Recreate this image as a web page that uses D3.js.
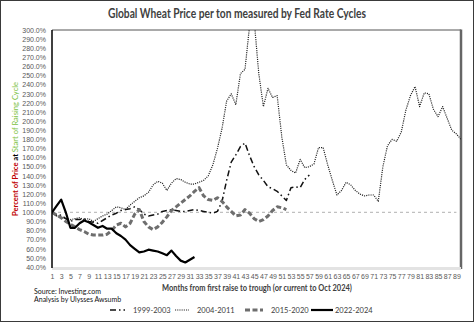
<!DOCTYPE html>
<html>
<head>
<meta charset="utf-8">
<script src="https://cdn.jsdelivr.net/npm/d3@7"></script>
<style>
  html, body { margin: 0; padding: 0; background: #fff; }
  svg { display: block; font-family: Lato, "Open Sans", sans-serif; }
</style>
</head>
<body>
<svg id="chart" width="474" height="322"></svg>
<script>
// Wheat price as % of price at the first Fed hike, by month of each rate cycle
const cycle1999 = [100, 96, 97, 93, 90, 92, 92, 93, 90, 89, 88, 91, 94, 97, 99, 102, 103, 104, 106, 103,
  98, 96, 97, 98, 101, 102, 103, 102, 101, 101, 102, 103, 102, 101, 100, 99, 101, 112, 135, 155,
  163, 172, 176, 162, 150, 141, 135, 128, 126, 123, 118, 113, 127, 128, 127, 136, 141];
const cycle2004 = [100, 97, 94, 93, 92, 93, 94, 92, 93, 90, 93, 96, 98, 102, 106, 105, 103, 108, 112, 116,
  118, 122, 130, 134, 132, 124, 132, 137, 136, 133, 131, 131, 133, 135, 140, 152, 170, 192, 222, 230,
  218, 252, 257, 305, 310, 252, 216, 236, 226, 228, 183, 152, 146, 143, 158, 149, 150, 153, 171, 171,
  152, 135, 119, 124, 133, 130, 124, 120, 118, 119, 119, 112, 150, 173, 180, 178, 188, 212, 228, 238,
  216, 231, 230, 213, 205, 216, 203, 190, 186, 180];
const cycle2015 = [100, 97, 94, 90, 87, 84, 81, 79, 76, 75, 75, 75, 76, 80, 86, 88, 84, 88, 98, 103,
  90, 84, 81, 84, 89, 95, 102, 106, 110, 114, 118, 123, 127, 118, 114, 113, 116, 112, 106, 101,
  96, 97, 103, 99, 93, 90, 92, 96, 102, 106, 105, 103];
const cycle2022 = [100, 107, 114, 100, 83, 83, 88, 91, 89, 86, 83, 85, 82, 82, 77, 74, 70, 64, 60, 56,
  57, 59, 58, 57, 55, 53, 58, 52, 47, 45, 48, 51];
const baseline = d3.range(1, 90).map(() => 100);

const cycleNames = ["1999-2003", "2004-2011", "2015-2020", "2022-2024"];
const yTicks = d3.range(40, 301, 10);
const xTicks = d3.range(1, 90, 2);

const svg = d3.select("#chart");
const W = 474, H = 322;
const plot = { left: 52, right: 461, top: 30, bottom: 267 };

const x = d3.scaleLinear().domain([1, 90]).range([plot.left, plot.right]);
const y = d3.scaleLinear().domain([40, 300]).range([plot.bottom, plot.top]);

// outer frame
svg.append("rect").attr("x", 0.5).attr("y", 0.5).attr("width", W - 1).attr("height", H - 1)
  .attr("fill", "#fff").attr("stroke", "#3a3a3a").attr("stroke-width", 1);

// title (horizontally condensed)
svg.append("text").attr("transform", "translate(237,18) scale(0.82,1)").attr("text-anchor", "middle")
  .attr("font-size", 12.5).attr("font-weight", "bold").attr("fill", "#404040")
  .text("Global Wheat Price per ton measured by Fed Rate Cycles");

// plot frame: gray top/right, light bottom band
svg.append("line").attr("x1", plot.left).attr("x2", plot.right).attr("y1", plot.top).attr("y2", plot.top)
  .attr("stroke", "#555").attr("stroke-width", 1);
svg.append("line").attr("x1", plot.right).attr("x2", plot.right).attr("y1", plot.top - 0.5).attr("y2", plot.bottom + 2)
  .attr("stroke", "#666").attr("stroke-width", 2.5);
svg.append("line").attr("x1", plot.left).attr("x2", plot.right).attr("y1", plot.bottom + 1.5).attr("y2", plot.bottom + 1.5)
  .attr("stroke", "#e3e3e3").attr("stroke-width", 3);

// y axis
const yAxis = d3.axisLeft(y).tickValues(yTicks).tickSize(0).tickPadding(6)
  .tickFormat(d => d.toFixed(1) + "%");
const gy = svg.append("g").attr("transform", `translate(${plot.left},0)`).call(yAxis);
gy.select(".domain").remove();
gy.selectAll("text").attr("font-size", 7).attr("fill", "#595959");

// x axis
const xAxis = d3.axisBottom(x).tickValues(xTicks).tickSize(0).tickPadding(6).tickFormat(d3.format("d"));
const gx = svg.append("g").attr("transform", `translate(0,${plot.bottom + 1})`).call(xAxis);
gx.select(".domain").remove();
gx.selectAll("text").attr("font-size", 7).attr("fill", "#595959");

// clip series to the plot area
svg.append("clipPath").attr("id", "plotClip").append("rect")
  .attr("x", plot.left).attr("y", plot.top).attr("width", plot.right - plot.left).attr("height", plot.bottom - plot.top);

const line = d3.line().x((d, i) => x(i + 1)).y(d => y(d));
const series = svg.append("g").attr("clip-path", "url(#plotClip)");

const styles = {
  "base": { stroke: "#c0c0c0", width: 1.3, dash: "3,3" },
  "1999-2003": { stroke: "#111", width: 1.5, dash: "6,3,1.5,3" },
  "2004-2011": { stroke: "#222", width: 1.2, dash: "1.1,1.1" },
  "2015-2020": { stroke: "#6e6e6e", width: 3, dash: "5,2.5" },
  "2022-2024": { stroke: "#000", width: 2.2, dash: null }
};

const drawSeries = (data, key) => {
  const s = styles[key];
  series.append("path").datum(data).attr("d", line)
    .attr("fill", "none").attr("stroke", s.stroke).attr("stroke-width", s.width)
    .attr("stroke-dasharray", s.dash).attr("stroke-linejoin", "round");
};
drawSeries(baseline, "base");
drawSeries(cycle2004, "2004-2011");
drawSeries(cycle1999, "1999-2003");
drawSeries(cycle2015, "2015-2020");
drawSeries(cycle2022, "2022-2024");

// left axis line
svg.append("line").attr("x1", plot.left).attr("x2", plot.left).attr("y1", plot.top).attr("y2", plot.bottom + 1)
  .attr("stroke", "#000").attr("stroke-width", 1.5);

// y axis title in three colours
const yTitle = svg.append("text").attr("transform", "translate(18,149) rotate(-90)")
  .attr("text-anchor", "middle").attr("font-size", 7.6);
yTitle.append("tspan").attr("fill", "#c00000").attr("font-weight", "bold").text("Percent of Price ");
yTitle.append("tspan").attr("fill", "#000").attr("font-weight", "bold").text("at ");
yTitle.append("tspan").attr("fill", "#7cc242").text("Start of Raising Cycle");

// x axis title (horizontally condensed)
svg.append("text").attr("transform", "translate(257,291) scale(0.88,1)").attr("text-anchor", "middle")
  .attr("font-size", 8.5).attr("font-weight", "bold").attr("fill", "#404040")
  .text("Months from first raise to trough (or current to Oct 2024)");

// source notes
svg.append("text").attr("x", 34).attr("y", 294).attr("font-size", 7).attr("fill", "#111")
  .text("Source: Investing.com");
svg.append("text").attr("x", 34).attr("y", 302).attr("font-size", 7).attr("fill", "#111")
  .text("Analysis by Ulysses Awsumb");

// legend
const legendPos = [
  { x: 110, w: 15 }, { x: 175, w: 14 }, { x: 245, w: 18 }, { x: 311, w: 22 }
];
const legend = svg.append("g");
cycleNames.forEach((name, i) => {
  const s = styles[name], p = legendPos[i];
  legend.append("line").attr("x1", p.x).attr("x2", p.x + p.w).attr("y1", 310).attr("y2", 310)
    .attr("stroke", s.stroke).attr("stroke-width", s.width).attr("stroke-dasharray", s.dash);
  legend.append("text").attr("x", p.x + p.w + (i === 3 ? 2 : 8)).attr("y", 312.5)
    .attr("font-size", 7.5).attr("fill", "#404040").text(name);
});
</script>
</body>
</html>
